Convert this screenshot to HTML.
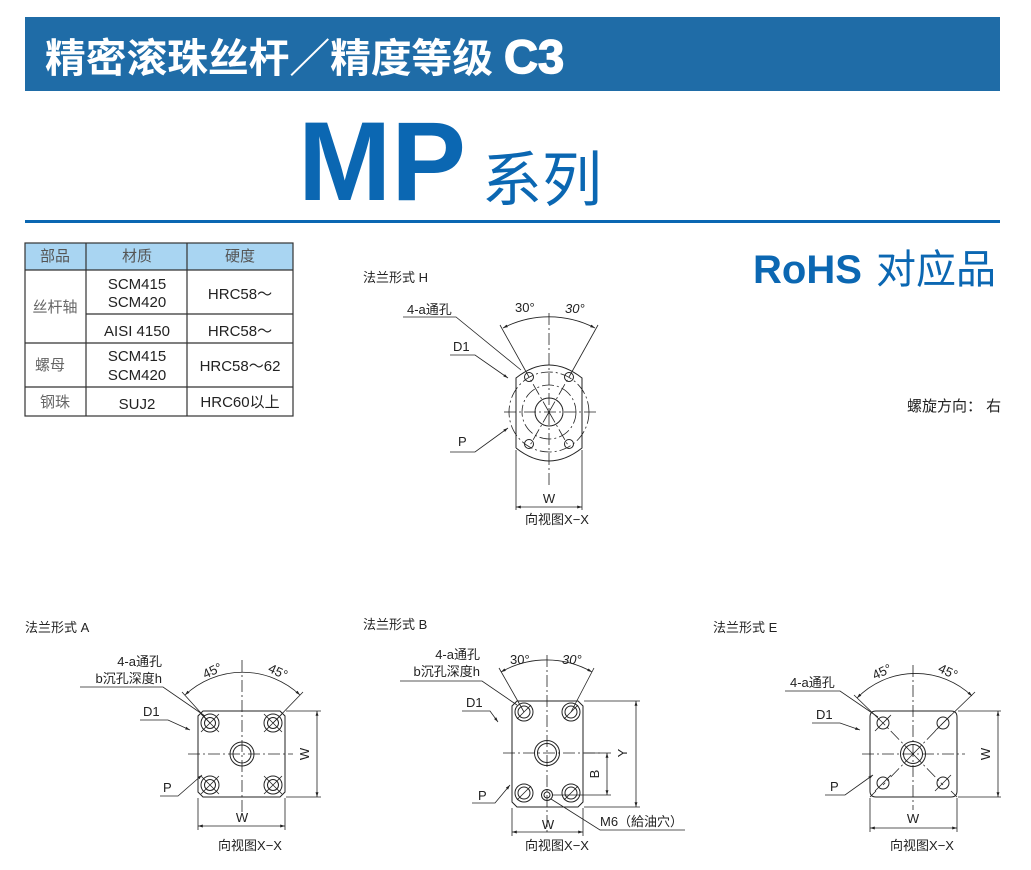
<!DOCTYPE html>
<html><head><meta charset="utf-8"><style>
body{margin:0;background:#fff;width:1031px;height:870px;overflow:hidden}
svg{display:block}
.t{font-family:"Liberation Sans","Noto Sans CJK SC",sans-serif;font-size:15px;fill:#222}
.s{font-family:"Liberation Sans","Noto Sans CJK SC",sans-serif;font-size:13px;fill:#222}
.l{stroke:#222;stroke-width:1;fill:none}
.c{stroke:#222;stroke-width:0.8;fill:none;stroke-dasharray:12 3 2 3}
.th{stroke:#222;stroke-width:0.8;fill:none}
</style></head><body>
<svg width="1031" height="870" viewBox="0 0 1031 870" xmlns="http://www.w3.org/2000/svg">
<defs>
<marker id="a" viewBox="0 0 10 10" refX="10" refY="5" markerWidth="6" markerHeight="6" orient="auto-start-reverse"><path d="M0,2 L10,5 L0,8z" fill="#222"/></marker>
</defs>
<!-- header -->
<rect x="25" y="17" width="975" height="74" fill="#1f6ca7"/>
<text x="45" y="72" font-family="'Noto Sans CJK SC',sans-serif" font-size="40" font-weight="bold" fill="#fff" textLength="448" lengthAdjust="spacingAndGlyphs">精密滚珠丝杆／精度等级</text>
<text x="504" y="73" font-family="'Liberation Sans',sans-serif" font-size="47" font-weight="bold" fill="#fff" stroke="#fff" stroke-width="1.5">C3</text>
<text x="298" y="200" font-family="'Liberation Sans',sans-serif" font-size="112" font-weight="bold" fill="#0b67b2">MP</text>
<text x="482" y="201" font-family="'Noto Sans CJK SC',sans-serif" font-size="60" fill="#0b67b2">系列</text>
<rect x="25" y="220" width="975" height="3" fill="#0b67b2"/>
<text x="753" y="283" font-family="'Liberation Sans',sans-serif" font-size="40" font-weight="bold" fill="#0b67b2">RoHS</text>
<text x="876" y="283" font-family="'Noto Sans CJK SC',sans-serif" font-size="40" fill="#0b67b2">对应品</text>
<text x="907" y="411" class="t" font-size="14">螺旋方向：  右</text>

<!-- table -->
<rect x="25" y="243" width="268" height="27" fill="#a9d5f2"/>
<g stroke="#333" stroke-width="1.2" fill="none">
<rect x="25" y="243" width="268" height="173"/>
<line x1="25" y1="270" x2="293" y2="270"/>
<line x1="86" y1="314" x2="293" y2="314"/>
<line x1="25" y1="343" x2="293" y2="343"/>
<line x1="25" y1="387" x2="293" y2="387"/>
<line x1="86" y1="243" x2="86" y2="416"/>
<line x1="187" y1="243" x2="187" y2="416"/>
</g>
<g class="t" text-anchor="middle">
<text x="55" y="261" fill="#555">部品</text><text x="137" y="261" fill="#555">材质</text><text x="240" y="261" fill="#555">硬度</text>
<text x="55" y="312" fill="#666">丝杆轴</text>
<text x="137" y="289">SCM415</text><text x="137" y="307">SCM420</text><text x="240" y="299">HRC58～</text>
<text x="137" y="336">AISI 4150</text><text x="240" y="336">HRC58～</text>
<text x="50" y="370" fill="#666">螺母</text>
<text x="137" y="361">SCM415</text><text x="137" y="380">SCM420</text><text x="240" y="371">HRC58～62</text>
<text x="55" y="407" fill="#666">钢珠</text><text x="137" y="409">SUJ2</text><text x="240" y="407">HRC60以上</text>
</g>

<!-- flange H -->
<text x="363" y="282" class="s">法兰形式 H</text>
<path class="l" d="M516,448 L516,378 Q549,352 582,378 L582,448 Q549,474 516,448"/>
<line class="c" x1="504" y1="412" x2="596" y2="412"/>
<line class="c" x1="549" y1="313" x2="549" y2="488"/>
<circle class="l" cx="549" cy="412" r="14"/>
<circle class="c" cx="549" cy="412" r="27"/>
<circle class="c" cx="549" cy="412" r="40"/>
<g class="l"><circle cx="529" cy="377" r="4.5"/><circle cx="569" cy="377" r="4.5"/><circle cx="529" cy="444" r="4.5"/><circle cx="569" cy="444" r="4.5"/></g>
<line class="c" x1="549" y1="412" x2="529" y2="377"/><line class="c" x1="549" y1="412" x2="569" y2="377"/>
<line class="c" x1="549" y1="412" x2="529" y2="447"/><line class="c" x1="549" y1="412" x2="569" y2="447"/>
<line class="th" x1="529" y1="377" x2="500" y2="325"/><line class="th" x1="569" y1="377" x2="598" y2="325"/>
<path class="th" d="M503,328 A100,100 0 0 1 595,328" marker-start="url(#a)" marker-end="url(#a)"/>
<text x="515" y="312" class="s">30°</text><text x="565" y="313" class="s" font-style="italic">30°</text>
<text x="407" y="314" class="s">4-a通孔</text>
<polyline class="th" points="403,317 456,317 521,370"/>
<text x="453" y="351" class="s">D1</text>
<polyline class="th" points="450,355 475,355 508,378" marker-end="url(#a)"/>
<text x="458" y="446" class="s">P</text>
<polyline class="th" points="450,452 475,452 508,428" marker-end="url(#a)"/>
<line class="th" x1="516" y1="450" x2="516" y2="510"/><line class="th" x1="582" y1="450" x2="582" y2="510"/>
<line class="th" x1="516" y1="507" x2="582" y2="507" marker-start="url(#a)" marker-end="url(#a)"/>
<text x="549" y="503" class="s" text-anchor="middle">W</text>
<text x="557" y="524" class="s" text-anchor="middle">向视图X−X</text>

<!-- flange A -->
<text x="25" y="632" class="s">法兰形式 A</text>
<path class="l" d="M203,711 L280,711 L285,716 L285,792 L280,797 L203,797 L198,792 L198,716 Z"/>
<line class="c" x1="188" y1="754" x2="293" y2="754"/>
<line class="c" x1="242" y1="660" x2="242" y2="812"/>
<circle class="l" cx="242" cy="754" r="12"/><circle class="l" cx="242" cy="754" r="9"/>
<g class="l">
<circle cx="210" cy="723" r="9"/><circle cx="210" cy="723" r="5.5"/>
<circle cx="273" cy="723" r="9"/><circle cx="273" cy="723" r="5.5"/>
<circle cx="210" cy="785" r="9"/><circle cx="210" cy="785" r="5.5"/>
<circle cx="273" cy="785" r="9"/><circle cx="273" cy="785" r="5.5"/>
</g>
<g class="th"><path d="M201,714 L219,732 M219,714 L201,732 M264,714 L282,732 M282,714 L264,732 M201,776 L219,794 M219,776 L201,794 M264,776 L282,794 M282,776 L264,794"/></g>
<line class="th" x1="210" y1="723" x2="182" y2="692"/><line class="th" x1="273" y1="723" x2="303" y2="692"/>
<path class="th" d="M185,695 A84,84 0 0 1 300,695" marker-start="url(#a)" marker-end="url(#a)"/>
<text x="202" y="676" class="s" transform="rotate(-25 210 670)">45°</text>
<text x="268" y="676" class="s" transform="rotate(25 278 672)">45°</text>
<text x="162" y="666" class="s" text-anchor="end">4-a通孔</text>
<text x="162" y="683" class="s" text-anchor="end">b沉孔深度h</text>
<polyline class="th" points="80,687 163,687 205,716"/>
<text x="143" y="716" class="s">D1</text>
<polyline class="th" points="140,720 168,720 190,730" marker-end="url(#a)"/>
<text x="163" y="792" class="s">P</text>
<polyline class="th" points="160,796 178,796 202,775" marker-end="url(#a)"/>
<line class="th" x1="286" y1="711" x2="321" y2="711"/><line class="th" x1="286" y1="797" x2="321" y2="797"/>
<line class="th" x1="317" y1="711" x2="317" y2="797" marker-start="url(#a)" marker-end="url(#a)"/>
<text x="310" y="754" class="s" text-anchor="middle" transform="rotate(-90 310 754)" dy="-1">W</text>
<line class="th" x1="198" y1="798" x2="198" y2="830"/><line class="th" x1="285" y1="798" x2="285" y2="830"/>
<line class="th" x1="198" y1="826" x2="285" y2="826" marker-start="url(#a)" marker-end="url(#a)"/>
<text x="242" y="822" class="s" text-anchor="middle">W</text>
<text x="250" y="850" class="s" text-anchor="middle">向视图X−X</text>

<!-- flange B -->
<text x="363" y="629" class="s">法兰形式 B</text>
<path class="l" d="M517,701 L578,701 L583,706 L583,802 L578,807 L517,807 L512,802 L512,706 Z"/>
<line class="c" x1="503" y1="753" x2="600" y2="753"/>
<line class="c" x1="547" y1="655" x2="547" y2="833"/>
<circle class="l" cx="547" cy="753" r="12.5"/><circle class="l" cx="547" cy="753" r="9.5"/>
<g class="l">
<circle cx="524" cy="712" r="9"/><circle cx="524" cy="712" r="6"/>
<circle cx="571" cy="712" r="9"/><circle cx="571" cy="712" r="6"/>
<circle cx="524" cy="793" r="9"/><circle cx="524" cy="793" r="6"/>
<circle cx="571" cy="793" r="9"/><circle cx="571" cy="793" r="6"/>
<circle cx="547" cy="795" r="5.5"/><circle cx="547" cy="795" r="3"/>
</g>
<g class="th"><path d="M517,719 L531,705 M564,719 L578,705 M517,800 L531,786 M564,800 L578,786"/></g>
<line class="th" x1="524" y1="712" x2="499" y2="668"/><line class="th" x1="571" y1="712" x2="594" y2="668"/>
<path class="th" d="M501,672 A92,92 0 0 1 592,672" marker-start="url(#a)" marker-end="url(#a)"/>
<text x="510" y="664" class="s">30°</text><text x="562" y="664" class="s" font-style="italic">30°</text>
<text x="480" y="659" class="s" text-anchor="end">4-a通孔</text>
<text x="480" y="676" class="s" text-anchor="end">b沉孔深度h</text>
<polyline class="th" points="400,681 482,681 517,705"/>
<text x="466" y="707" class="s">D1</text>
<polyline class="th" points="462,711 490,711 498,722" marker-end="url(#a)"/>
<text x="478" y="800" class="s">P</text>
<polyline class="th" points="472,803 495,803 510,785" marker-end="url(#a)"/>
<line class="th" x1="584" y1="701" x2="640" y2="701"/><line class="th" x1="584" y1="807" x2="640" y2="807"/>
<line class="th" x1="636" y1="701" x2="636" y2="807" marker-start="url(#a)" marker-end="url(#a)"/>
<text x="627" y="753" class="s" text-anchor="middle" transform="rotate(-90 627 753)">Y</text>
<line class="th" x1="584" y1="753" x2="611" y2="753"/><line class="th" x1="552" y1="795" x2="611" y2="795"/>
<line class="th" x1="607" y1="753" x2="607" y2="795" marker-start="url(#a)" marker-end="url(#a)"/>
<text x="599" y="774" class="s" text-anchor="middle" transform="rotate(-90 599 774)">B</text>
<polyline class="th" points="551,799 600,830 685,830"/>
<text x="600" y="826" class="s">M6（給油穴）</text>
<line class="th" x1="512" y1="808" x2="512" y2="836"/><line class="th" x1="583" y1="808" x2="583" y2="836"/>
<line class="th" x1="512" y1="832" x2="583" y2="832" marker-start="url(#a)" marker-end="url(#a)"/>
<text x="548" y="829" class="s" text-anchor="middle">W</text>
<text x="557" y="850" class="s" text-anchor="middle">向视图X−X</text>

<!-- flange E -->
<text x="713" y="632" class="s">法兰形式 E</text>
<path class="l" d="M876,711 L951,711 Q957,711 957,717 L957,791 Q957,797 951,797 L876,797 Q870,797 870,791 L870,717 Q870,711 876,711 Z"/>
<line class="c" x1="862" y1="754" x2="965" y2="754"/>
<line class="c" x1="913" y1="665" x2="913" y2="810"/>
<circle class="l" cx="913" cy="754" r="12.5"/><circle class="l" cx="913" cy="754" r="9.5"/>
<g class="l"><circle cx="883" cy="723" r="6"/><circle cx="943" cy="723" r="6"/><circle cx="883" cy="783" r="6"/><circle cx="943" cy="783" r="6"/></g>
<g class="th"><path d="M875,731 L891,715 M935,731 L951,715 M875,791 L891,775 M935,791 L951,775 M870,797 L876,791 M957,797 L951,791"/></g>
<line class="c" x1="913" y1="754" x2="883" y2="723"/><line class="c" x1="913" y1="754" x2="943" y2="723"/>
<line class="c" x1="913" y1="754" x2="883" y2="785"/><line class="c" x1="913" y1="754" x2="943" y2="785"/>
<line class="th" x1="883" y1="723" x2="854" y2="695"/><line class="th" x1="943" y1="723" x2="975" y2="692"/>
<path class="th" d="M857,698 A82,82 0 0 1 972,696" marker-start="url(#a)" marker-end="url(#a)"/>
<text x="872" y="677" class="s" transform="rotate(-25 880 672)">45°</text>
<text x="938" y="676" class="s" transform="rotate(25 948 672)">45°</text>
<text x="790" y="687" class="s">4-a通孔</text>
<polyline class="th" points="785,691 840,691 878,717"/>
<text x="816" y="719" class="s">D1</text>
<polyline class="th" points="812,723 840,723 860,730" marker-end="url(#a)"/>
<text x="830" y="791" class="s">P</text>
<polyline class="th" points="825,795 845,795 873,775" marker-end="url(#a)"/>
<line class="th" x1="958" y1="711" x2="1001" y2="711"/><line class="th" x1="958" y1="797" x2="1001" y2="797"/>
<line class="th" x1="998" y1="711" x2="998" y2="797" marker-start="url(#a)" marker-end="url(#a)"/>
<text x="990" y="754" class="s" text-anchor="middle" transform="rotate(-90 990 754)">W</text>
<line class="th" x1="870" y1="798" x2="870" y2="832"/><line class="th" x1="957" y1="798" x2="957" y2="832"/>
<line class="th" x1="870" y1="828" x2="957" y2="828" marker-start="url(#a)" marker-end="url(#a)"/>
<text x="913" y="823" class="s" text-anchor="middle">W</text>
<text x="922" y="850" class="s" text-anchor="middle">向视图X−X</text>
</svg>
</body></html>
